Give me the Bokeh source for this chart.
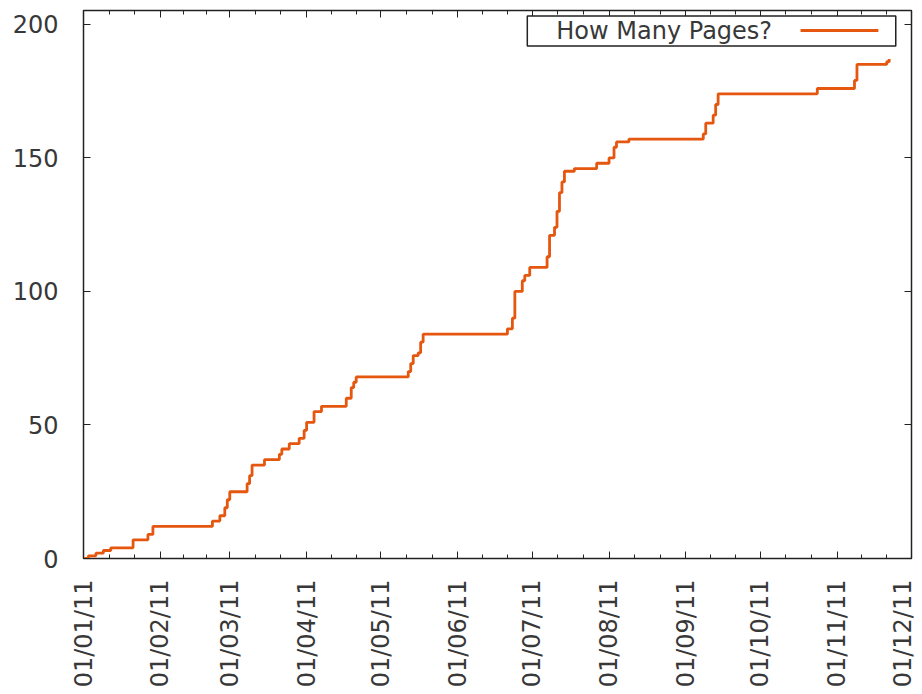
import math
import datetime as dt
from bokeh.plotting import figure
from bokeh.models import (Range1d, FixedTicker, DatetimeTickFormatter, LinearAxis,
                          DatetimeAxis, BoxAnnotation, Label, Arrow, ColumnDataSource,
                          CustomLabelingPolicy)
from bokeh.embed import file_html
from bokeh.resources import INLINE

# ---- data ----
dates = ["2011-01-01", "2011-01-03", "2011-01-06", "2011-01-09", "2011-01-12", "2011-01-21",
         "2011-01-27", "2011-01-29", "2011-02-22", "2011-02-25", "2011-02-27", "2011-02-28",
         "2011-03-01", "2011-03-08", "2011-03-09", "2011-03-10", "2011-03-15", "2011-03-21",
         "2011-03-22", "2011-03-25", "2011-03-29", "2011-03-31", "2011-04-01", "2011-04-04",
         "2011-04-07", "2011-04-17", "2011-04-19", "2011-04-20", "2011-04-21", "2011-05-12",
         "2011-05-13", "2011-05-14", "2011-05-16", "2011-05-17", "2011-05-18", "2011-06-21",
         "2011-06-23", "2011-06-24", "2011-06-27", "2011-06-28", "2011-06-30", "2011-07-07",
         "2011-07-08", "2011-07-10", "2011-07-11", "2011-07-12", "2011-07-13", "2011-07-14",
         "2011-07-18", "2011-07-27", "2011-08-01", "2011-08-03", "2011-08-04", "2011-08-09",
         "2011-09-08", "2011-09-09", "2011-09-12", "2011-09-13", "2011-09-14", "2011-10-24",
         "2011-11-08", "2011-11-09", "2011-11-21", "2011-11-22"]
pages = [0, 1, 2, 3, 4, 7,
         9, 12, 14, 16, 19, 22,
         25, 28, 31, 35, 37, 39,
         41, 43, 45, 48, 51, 55,
         57, 60, 64, 66, 68, 70,
         73, 76, 77, 81, 84, 86,
         90, 100, 104, 106, 109, 113,
         121, 124, 130, 137, 141, 145,
         146, 148, 150, 154, 156, 157,
         159, 163, 166, 170, 174, 176,
         179, 185, 186, 187]
series_name = "How Many Pages?"
y_ticks = [0, 50, 100, 150, 200]
x_start = dt.datetime(2011, 1, 1)
x_end = dt.datetime(2011, 12, 1)
y_start, y_end = 0, 205.2

# ---- styles ----
FONT = "DejaVu Sans"
TXT = "#383838"
LINE = "#e5560f"
BORDER = "#222222"
FS = "24px"

x = [dt.datetime.strptime(d, "%Y-%m-%d") for d in dates]
src = ColumnDataSource(dict(x=x, y=pages))

p = figure(width=916, height=690, x_axis_type="datetime",
           x_range=Range1d(x_start, x_end), y_range=Range1d(y_start, y_end),
           output_backend="svg", toolbar_location=None,
           min_border_left=83, min_border_right=3, min_border_top=10, min_border_bottom=130)
p.background_fill_color = "white"
p.border_fill_color = "white"
p.grid.visible = False
p.outline_line_color = BORDER
p.outline_line_width = 1.5

# ticks: month starts plus two minor ticks between each
def ms(d):
    return (d - dt.datetime(1970, 1, 1)).total_seconds() * 1000.0

months = [dt.datetime(2011, m, 1) for m in range(1, 13)]
major = [ms(m) for m in months]
minor = []
for a, b in zip(major[:-1], major[1:]):
    minor += [a + (b - a) / 3.0, a + 2 * (b - a) / 3.0]
xticker = FixedTicker(ticks=major, minor_ticks=minor)
yticker = FixedTicker(ticks=y_ticks, minor_ticks=[])
fmt = "%d/%m/%y"
xfmt = DatetimeTickFormatter(milliseconds=fmt, seconds=fmt, minsec=fmt, minutes=fmt,
                             hourmin=fmt, hours=fmt, days=fmt, months=fmt, years=fmt)
hide_all = CustomLabelingPolicy(code="for (const i of indices) { indices.unset(i) } return indices")

def style(ax, labels=True):
    ax.axis_line_color = None
    ax.major_tick_in = 7
    ax.major_tick_out = 0
    ax.minor_tick_in = 4
    ax.minor_tick_out = 0
    ax.major_tick_line_color = BORDER
    ax.minor_tick_line_color = BORDER
    ax.major_tick_line_width = 1
    ax.minor_tick_line_width = 1
    ax.major_label_text_font = FONT
    ax.major_label_text_color = TXT
    if labels:
        ax.major_label_text_font_size = FS
    else:
        ax.major_label_text_font_size = "1px"
        ax.major_label_standoff = 0
        ax.major_label_policy = hide_all

xa = p.xaxis[0]
xa.ticker = xticker
xa.formatter = xfmt
xa.major_label_orientation = math.pi / 2
style(xa)
xa.major_label_standoff = 21

ya = p.yaxis[0]
ya.ticker = yticker
style(ya)
ya.major_label_standoff = 25

top = DatetimeAxis(ticker=xticker, formatter=xfmt)
style(top, labels=False)
p.add_layout(top, "above")
right = LinearAxis(ticker=yticker)
style(right, labels=False)
p.add_layout(right, "right")

p.step(x="x", y="y", source=src, mode="after", line_color=LINE, line_width=2.8)

# legend (gnuplot style: text, then sample, inside a box), placed by range fractions
X0, X1 = ms(x_start), ms(x_end)
def fx(f):
    return X0 + f * (X1 - X0)
def fy(f):
    return y_start + f * (y_end - y_start)

p.add_layout(BoxAnnotation(left=fx(0.536), right=fx(0.981), bottom=fy(0.935), top=fy(0.990),
                           fill_color="white", fill_alpha=1.0, line_color=BORDER,
                           line_width=1.5, line_alpha=1.0))
p.add_layout(Label(x=fx(0.571), y=fy(0.9635), text=series_name, text_font=FONT,
                   text_font_size=FS, text_color=TXT, text_baseline="middle"))
p.add_layout(Arrow(x_start=fx(0.866), y_start=fy(0.9635), x_end=fx(0.960), y_end=fy(0.9635),
                   end=None, line_color=LINE, line_width=2.8))

open("out.html", "w").write(file_html(p, INLINE))
